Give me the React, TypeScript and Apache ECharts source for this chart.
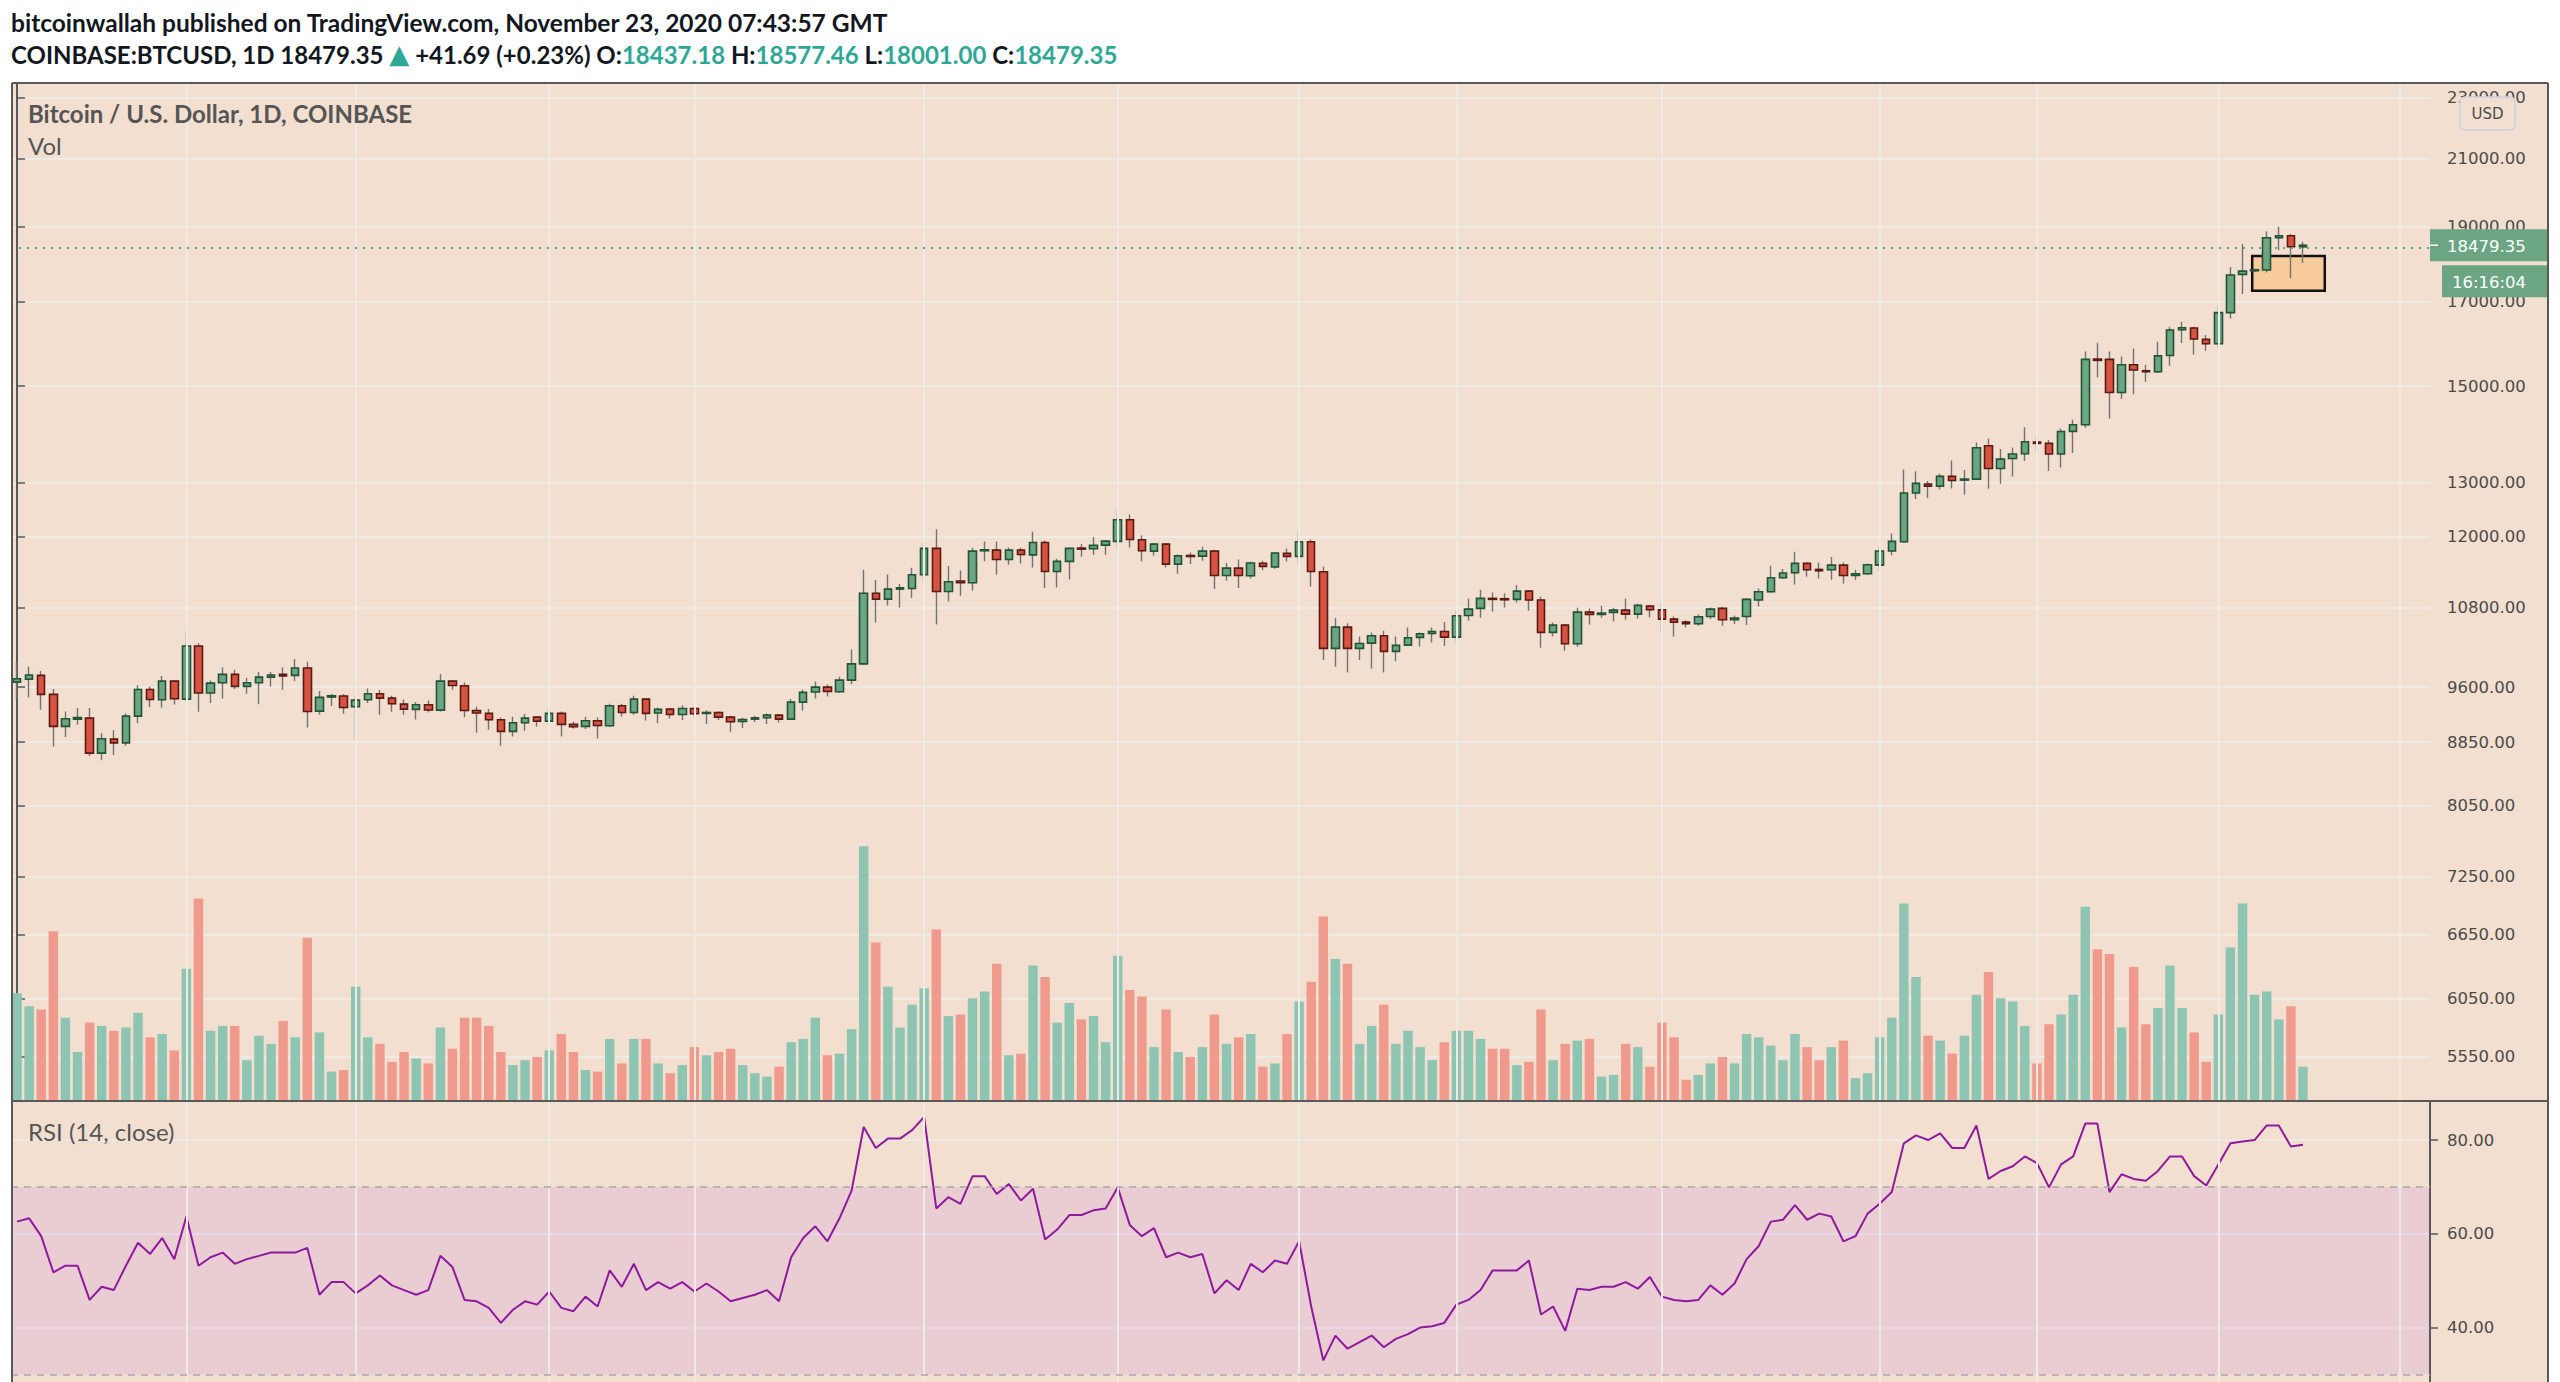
import React, { useEffect, useRef } from "react";
import * as echarts from "echarts";

// ---------------- data ----------------
const START_DATE = "2020-05-18";
const AXIS_DAYS = 200;

const opens = [9672,9715,9768,9497,9057,9155,9169,8705,8888,8839, 9196,9567,9422,9686,9431,10203,9516,9662,9783,9610, 9662,9744,9783,9768,9875,9265,9460,9474,9324,9422, 9506,9445,9361,9288,9352,9278,9685,9619,9274,9233, 9146,8990,9106,9183,9128,9233,9084,9057,9133,9066, 9338,9246,9431,9238,9292,9219,9301,9233,9246,9183, 9124,9155,9173,9210,9155,9389,9530,9600,9534,9700, 9936,11034,10938,11101,11112,11339,11791,11062,11234,11206, 11750,11761,11600,11761,11679,11896,11395,11567,11797,11785, 11849,11914,12302,11943,11744,11867,11520,11668,11657,11744, 11328,11452,11323,11534,11470,11704,11652,11908,11390,10167, 10493,10167,10247,10359,10122,10217,10334,10395,10426,10338, 10676,10788,10949,10944,10933,11068,10922,10411,10524,10237, 10729,10692,10724,10761,10697,10825,10766,10618,10571,10545, 10660,10788,10608,10660,10922,11057,11289,11373,11532,11429, 11424,11503,11328,11356,11503,11745,11908,12799,12971,12932, 13119,13048,13067,13729,13275,13473,13567,13804,13777,13561, 14025,14164,15611,15603,14858,15480,15344,15321,15694,16305, 16345,16073,15971,16723,17698,17795,17813,18686,18742,18437.18];

const highs = [9958,9899,9831,9572,9260,9306,9306,8967,9008,9232, 9626,9610,9759,9700,10430,10244,9696,9884,9850,9730, 9816,9816,9884,10007,9968,9544,9502,9502,9492,9581, 9558,9478,9426,9389,9413,9787,9700,9667,9324,9292, 9178,9187,9224,9196,9292,9260,9119,9187,9178,9366, 9366,9478,9441,9315,9301,9343,9315,9278,9260,9201, 9173,9201,9233,9224,9431,9562,9681,9638,9748,10152, 11424,11250,11345,11184,11457,11885,12133,11486,11412,11803, 11914,11914,11809,11803,12085,11932,11612,11803,11867,11991, 11932,12485,12400,12020,11885,11885,11685,11720,11820,11767, 11537,11600,11566,11578,11721,11791,12091,11949,11475,10634, 10555,10349,10411,10436,10349,10488,10411,10488,10571,10756, 10949,11090,11046,11030,11168,11079,10976,10566,10540,10798, 10788,10831,10798,10949,10863,10841,10868,10660,10602,10692, 10804,10810,10676,10954,11112,11492,11435,11734,11549,11549, 11640,11549,11424,11532,11838,12055,13252,13219,13029,13171, 13434,13245,13797,13879,13661,13695,14108,13913,13845,14087, 14270,15789,15994,15789,15672,15860,15480,16017,16378,16500, 16380,16177,16898,17892,18512,17850,18863,18994,18788,18577.46];

const lows = [9431,9455,9283,8792,8915,9079,8667,8615,8680,8800, 9101,9320,9310,9356,9403,9255,9375,9440,9572,9506, 9361,9610,9563,9686,9043,9214,9334,9228,8888,9375, 9214,9255,9214,9150,9246,9260,9562,9180,8973,9012, 8800,8923,8999,9052,9075,8923,9030,9021,8897,9057, 9192,9215,9137,9101,9164,9142,9173,9088,9142,8986, 9034,9115,9088,9110,9146,9269,9441,9469,9516,9643, 9921,10565,10836,10804,10954,11228,10534,10900,10992,11073, 11567,11339,11514,11531,11463,11118,11129,11262,11646,11679, 11679,11761,11809,11567,11662,11463,11356,11520,11578,11101, 11239,11118,11278,11418,11440,11566,11523,11145,9992,9894, 9812,9992,9869,9812,9977,10207,10192,10257,10202,10247, 10597,10639,10740,10804,10884,10750,10177,10349,10132,10192, 10535,10639,10582,10608,10629,10645,10428,10349,10488,10514, 10618,10514,10540,10524,10820,11051,11278,11179,11306,11278, 11256,11195,11250,11345,11401,11674,11896,12685,12704,12869, 12888,12767,13048,12882,12978,13119,13420,13627,13223,13295, 13580,14094,15193,14297,14713,14816,15089,15291,15458,15985, 15719,15805,15868,16581,17190,17760,17750,18340,17602,18001.00];

const closes = [9720,9773,9497,9057,9160,9178,8705,8892,8839,9196, 9567,9426,9686,9436,10203,9516,9657,9783,9610,9662, 9744,9773,9759,9875,9260,9455,9478,9315,9417,9506, 9445,9366,9292,9352,9279,9685,9623,9274,9238,9146, 8990,9106,9169,9128,9233,9084,9052,9133,9070,9338, 9246,9431,9233,9288,9219,9301,9228,9246,9183,9119, 9151,9173,9210,9155,9389,9525,9600,9539,9700,9936, 11034,10938,11101,11123,11339,11791,11062,11223,11206,11744, 11767,11600,11761,11685,11896,11395,11567,11791,11779,11844, 11920,12302,11949,11750,11867,11520,11662,11651,11744,11328, 11452,11328,11540,11481,11710,11652,11908,11395,10167,10493, 10167,10242,10359,10122,10212,10328,10390,10426,10338,10671, 10777,10949,10933,10927,11068,10922,10411,10524,10237,10729, 10692,10713,10761,10697,10836,10766,10618,10571,10545,10655, 10777,10608,10634,10933,11057,11289,11368,11532,11424,11407, 11503,11328,11356,11509,11745,11914,12799,12984,12932,13119, 13041,13067,13688,13275,13460,13561,13811,13777,13561,14023, 14164,15603,15581,14858,15480,15360,15321,15686,16297,16353, 16081,15971,16723,17681,17785,17821,18686,18742,18437.66,18479.35];

const volumes = [16500,14500,14000,26000,12750,7500,12000,11500,10750,11250, 13500,9750,10250,7750,20250,31000,10750,11500,11500,6250, 10000,8750,12250,9750,25000,10500,4500,4750,17500,9750, 8750,6000,7500,6500,5750,11250,8000,12750,12750,11500, 7500,5500,6250,6750,7750,10250,7500,4750,4500,9500, 5750,9500,9500,5750,4250,5500,8250,7000,7500,8000, 5500,4250,3750,5250,9000,9500,12750,7000,7250,11000, 39000,24250,17500,11250,14750,17250,26250,13000,13250,15750, 16750,21000,7000,7250,20750,19000,12000,15000,12500,13000, 9000,22250,17000,16000,8250,14000,7500,6750,8250,13250, 8750,9750,10250,5250,5750,10250,15250,18250,28250,21750, 21000,8750,11500,14750,8750,10750,8250,6250,9000,10750, 10750,9500,8000,8000,5500,6000,14000,6250,8750,9250, 9500,3750,4000,8750,8250,5250,12000,9750,3250,4000, 5750,6750,5750,10250,9750,8500,6250,10250,8250,6250, 8250,9250,3500,4250,9750,12750,30250,19000,10000,9250, 7250,10000,16250,19750,15750,15250,11500,5750,11750,13250, 16250,29750,23250,22500,11250,20500,11750,14250,20750,14250, 10500,6000,13250,23500,30250,16250,16750,12500,14500,5250];

const rsiValues = [62.6,63.3,59.5,51.8,53.2,53.2,45.9,48.7,48.0,53.2, 58.1,55.7,59.1,54.6,63.7,53.2,55.0,56.0,53.6,54.6, 55.3,56.0,56.0,56.0,57.0,47.0,49.7,49.7,47.3,49.0, 51.1,49.0,48.0,47.0,48.0,55.3,52.9,45.9,45.6,44.2, 41.0,43.8,45.6,44.9,47.7,44.2,43.5,46.6,44.5,52.2, 48.7,53.6,48.0,49.7,48.3,49.7,47.7,49.4,47.7,45.6, 46.3,47.0,48.0,45.6,55.0,59.1,61.6,58.4,63.3,69.2, 82.8,78.3,80.3,80.3,82.1,84.9,65.4,67.8,66.4,72.3, 72.3,68.5,70.6,67.1,69.6,58.8,60.9,64.0,64.0,65.0, 65.4,69.9,61.9,59.5,61.2,55.0,56.0,55.0,55.7,47.3, 50.1,48.0,53.6,51.8,54.3,53.6,58.4,44.5,33.0,38.3, 35.5,36.9,38.3,35.8,37.6,38.6,40.0,40.3,41.0,44.9, 45.9,48.0,52.2,52.2,52.2,54.3,42.8,44.5,39.3,48.3, 48.0,48.7,48.7,49.7,48.3,50.8,46.6,45.9,45.6,45.9, 49.0,47.0,49.4,54.6,57.4,62.6,63.0,66.1,63.0,64.3, 63.7,58.4,59.5,64.3,66.4,68.9,79.3,81.0,80.0,81.4, 78.3,78.3,83.1,71.7,73.4,74.4,76.5,75.1,69.9,74.8, 76.5,83.5,83.5,68.9,72.7,71.7,71.3,73.4,76.5,76.5, 72.3,70.3,74.8,79.3,79.7,80.0,83.1,83.1,78.6,79.0];

const priceTicks = [23000, 21000, 19000, 17000, 15000, 13000, 12000, 10800, 9600, 8850, 8050, 7250, 6650, 6050, 5550];
const rsiTicks = [40, 60, 80];
const rsiBand = [30, 70];
const gridDates = ["2020-06-01","2020-06-15","2020-07-01","2020-07-13","2020-08-01","2020-08-17","2020-09-01","2020-09-14","2020-10-01","2020-10-19","2020-11-01","2020-11-16","2020-12-01"];
const countdown = "16:16:04";
// annotation rectangle (day index range, price range)
const boxFrom = [184.8, 18190];
const boxTo = [190.8, 17277];

// ---------------- styling ----------------
const BG = "#f2dfcf";
const GRID_LINE = "#eeeae6";
const FRAME = "#595959";
const UP = "#6ba583", UP_BORDER = "#225437";
const DOWN = "#d75442", DOWN_BORDER = "#5b1a13";
const WICK = "#737375";
const VOL_UP = "#8dc5b2", VOL_DOWN = "#f09a8d";
const TEAL = "#2fa796";
const TEXT = "#131722";
const AXIS_TEXT = "#4b4b4b";

const PRICE_MIN = 8.5561, PRICE_MAX = 10.0649; // ln(price) range of the main pane
const RSI_MIN = 28.4, RSI_MAX = 88.32;
const VOL_MAX = 45930;

function buildDates(start: string, count: number): string[] {
  const out: string[] = [];
  const t0 = Date.parse(start + "T00:00:00Z");
  for (let i = 0; i < count; i++) out.push(new Date(t0 + i * 86400000).toISOString().slice(0, 10));
  return out;
}

export default function App() {
  const ref = useRef<HTMLDivElement>(null);

  useEffect(() => {
    if (!ref.current) return;
    const chart = echarts.init(ref.current, null, { renderer: "svg" });
    const ln = Math.log;
    const dates = buildDates(START_DATE, AXIS_DAYS);
    const n = closes.length;
    const last = n - 1;

    const wickData = opens.map((o, i) => [ln(o), ln(closes[i]), ln(lows[i]), ln(highs[i])]);
    const bodyData = opens.map((o, i) => {
      const c = closes[i];
      return [ln(o), ln(c), ln(Math.min(o, c)), ln(Math.max(o, c))];
    });
    const volData = volumes.map((v, i) => ({
      value: v,
      itemStyle: { color: closes[i] >= opens[i] ? VOL_UP : VOL_DOWN },
    }));

    const chg = closes[last] - closes[last - 1];
    const pct = (chg / closes[last - 1]) * 100;
    const sign = chg >= 0 ? "+" : "-";

    const catAxis = (gridIndex: number) => ({
      type: "category" as const,
      gridIndex,
      data: dates,
      boundaryGap: true,
      axisLine: { show: false },
      axisTick: { show: false },
      axisLabel: { show: false },
      splitLine: { show: false },
    });

    const vLines = (xAxisIndex: number, yAxisIndex: number, id: string) => ({
      id,
      type: "line",
      xAxisIndex,
      yAxisIndex,
      data: [],
      z: 1,
      silent: true,
      markLine: {
        silent: true,
        symbol: ["none", "none"],
        label: { show: false },
        lineStyle: { color: GRID_LINE, width: 2, type: "solid" },
        emphasis: { disabled: true },
        data: gridDates.map((d) => ({ xAxis: d })),
      },
    });

    const axisFont = { color: AXIS_TEXT, fontSize: 16.5, fontFamily: "DejaVu Sans" };

    const baseGraphics: any[] = [
      { id: "bg", type: "rect", z: -100, silent: true, shape: { x: 12, y: 83, width: 2536, height: 1299 }, style: { fill: BG } },
      { id: "fTop", type: "line", z: 100, silent: true, shape: { x1: 12, y1: 83, x2: 2548, y2: 83 }, style: { stroke: FRAME, lineWidth: 2 } },
      { id: "fLeft", type: "line", z: 100, silent: true, shape: { x1: 12, y1: 83, x2: 12, y2: 1382 }, style: { stroke: FRAME, lineWidth: 2 } },
      { id: "fRight", type: "line", z: 100, silent: true, shape: { x1: 2548, y1: 83, x2: 2548, y2: 1382 }, style: { stroke: FRAME, lineWidth: 2 } },
      { id: "fDiv", type: "line", z: 100, silent: true, shape: { x1: 12, y1: 1101, x2: 2548, y2: 1101 }, style: { stroke: FRAME, lineWidth: 2 } },
      { id: "usdBox", type: "rect", z: 50, silent: true, shape: { x: 2460, y: 97, width: 55, height: 33, r: 5 }, style: { fill: BG, stroke: "#cdd1dc", lineWidth: 1.5 } },
      { id: "usdText", type: "text", z: 51, silent: true, style: { text: "USD", x: 2487.5, y: 113.5, align: "center", verticalAlign: "middle", fill: "#4b4b4b", font: "15px 'DejaVu Sans'" } },
    ];

    const option: any = {
      animation: false,
      backgroundColor: "#ffffff",
      title: [
        {
          left: 11, top: 10, padding: 0,
          text: "{b|bitcoinwallah}{n| published on TradingView.com, November 23, 2020 07:43:57 GMT}",
          textStyle: {
            rich: {
              b: { fontFamily: "Lato", fontWeight: "bold", fontSize: 24.5, color: TEXT },
              n: { fontFamily: "Lato", fontSize: 24.5, color: TEXT },
            },
          },
        },
        {
          left: 11, top: 41, padding: 0,
          text:
            "{b|COINBASE:BTCUSD, 1D}{n| " + closes[last].toFixed(2) + " }{tri|▲}{n| " + sign + Math.abs(chg).toFixed(2) +
            " (" + sign + Math.abs(pct).toFixed(2) + "%) }{b|O:}{t|" + opens[last].toFixed(2) + "}{b| H:}{t|" + highs[last].toFixed(2) +
            "}{b| L:}{t|" + lows[last].toFixed(2) + "}{b| C:}{t|" + closes[last].toFixed(2) + "}",
          textStyle: {
            rich: {
              b: { fontFamily: "Lato", fontWeight: "bold", fontSize: 24, color: TEXT },
              n: { fontFamily: "Lato", fontSize: 24, color: TEXT },
              t: { fontFamily: "Lato", fontSize: 24, color: TEAL },
              tri: { fontFamily: "DejaVu Sans", fontSize: 26, color: TEAL },
            },
          },
        },
        { left: 28, top: 101, padding: 0, text: "Bitcoin / U.S. Dollar, 1D, COINBASE", textStyle: { fontFamily: "Lato", fontWeight: "bold", fontSize: 24, color: "#555555" } },
        { left: 28, top: 133, padding: 0, text: "Vol", textStyle: { fontFamily: "Lato", fontWeight: "normal", fontSize: 24, color: "#555555" } },
        { left: 28, top: 1119, padding: 0, text: "RSI (14, close)", textStyle: { fontFamily: "Lato", fontWeight: "normal", fontSize: 24, color: "#555555" } },
      ],
      grid: [
        { left: 11, right: 130, top: 83, bottom: 281 },
        { left: 11, right: 130, top: 801, bottom: 281 },
        { left: 11, right: 130, top: 1101, bottom: 0 },
      ],
      xAxis: [
        catAxis(0),
        catAxis(1),
        catAxis(2),
        { type: "value", gridIndex: 0, min: -0.5, max: AXIS_DAYS - 0.5, show: false },
      ],
      yAxis: [
        {
          type: "value", gridIndex: 0, position: "right", min: PRICE_MIN, max: PRICE_MAX,
          axisLine: { show: true, lineStyle: { color: FRAME, width: 2 } },
          axisTick: { show: true, customValues: priceTicks.map(ln), length: 8, lineStyle: { color: FRAME, width: 1.5 } },
          axisLabel: { customValues: priceTicks.map(ln), formatter: (v: number) => Math.round(Math.exp(v)).toFixed(2), margin: 17, ...axisFont },
          splitLine: { show: true, lineStyle: { color: GRID_LINE, width: 2 } },
        },
        { type: "value", gridIndex: 1, min: 0, max: VOL_MAX, show: false, splitLine: { show: false } },
        {
          type: "value", gridIndex: 2, position: "right", min: RSI_MIN, max: RSI_MAX,
          axisLine: { show: true, lineStyle: { color: FRAME, width: 2 } },
          axisTick: { show: true, customValues: rsiTicks, length: 8, lineStyle: { color: FRAME, width: 1.5 } },
          axisLabel: { customValues: rsiTicks, formatter: (v: number) => v.toFixed(2), margin: 17, ...axisFont },
          splitLine: { show: true, lineStyle: { color: GRID_LINE, width: 2 } },
        },
      ],
      series: [
        vLines(0, 0, "vgridMain"),
        {
          id: "volume", type: "bar", xAxisIndex: 1, yAxisIndex: 1, data: volData, barWidth: "78%", z: 2, silent: true,
        },
        {
          id: "wicks", type: "candlestick", xAxisIndex: 0, yAxisIndex: 0, data: wickData, barWidth: 1.4, z: 3, silent: true,
          itemStyle: { color: WICK, color0: WICK, borderColor: WICK, borderColor0: WICK, borderWidth: 1.4 },
        },
        {
          id: "bodies", type: "candlestick", xAxisIndex: 0, yAxisIndex: 0, data: bodyData, barWidth: 8, z: 4, silent: true,
          itemStyle: { color: UP, color0: DOWN, borderColor: UP_BORDER, borderColor0: DOWN_BORDER, borderWidth: 1.6 },
          markLine: {
            silent: true, symbol: ["none", "none"], label: { show: false },
            lineStyle: { color: UP, width: 2, type: [2, 6] },
            data: [{ yAxis: ln(closes[last]) }],
          },
        },
        {
          id: "box", type: "line", xAxisIndex: 3, yAxisIndex: 0, data: [], z: 6, silent: true,
          markArea: {
            silent: true,
            itemStyle: { color: "rgba(255,170,70,0.38)", borderColor: "#111111", borderWidth: 2.5 },
            data: [[{ coord: [boxFrom[0], ln(boxFrom[1])] }, { coord: [boxTo[0], ln(boxTo[1])] }]],
          },
        },
        vLines(2, 2, "vgridRsi"),
        {
          id: "rsi", type: "line", xAxisIndex: 2, yAxisIndex: 2, data: rsiValues, symbol: "none", z: 4, silent: true,
          lineStyle: { color: "#8e1a9e", width: 2 },
          markArea: {
            silent: true,
            itemStyle: { color: "rgba(153,21,255,0.09)" },
            data: [[{ yAxis: rsiBand[0] }, { yAxis: rsiBand[1] }]],
          },
          markLine: {
            silent: true, symbol: ["none", "none"], label: { show: false },
            lineStyle: { color: "#aea4ad", width: 1.5, type: [7, 6] },
            data: rsiBand.map((v) => ({ yAxis: v })),
          },
        },
      ],
      graphic: baseGraphics,
    };

    chart.setOption(option);

    const py = chart.convertToPixel({ yAxisIndex: 0 } as any, ln(closes[last])) as unknown as number;
    chart.setOption({
      graphic: [
        ...baseGraphics,
        { id: "pBox", type: "rect", z: 60, silent: true, shape: { x: 2430, y: py - 16, width: 118, height: 32 }, style: { fill: UP } },
        { id: "pTick", type: "line", z: 61, silent: true, shape: { x1: 2430, y1: py, x2: 2438, y2: py }, style: { stroke: "#ffffff", lineWidth: 1.5 } },
        { id: "pText", type: "text", z: 61, silent: true, style: { text: closes[last].toFixed(2), x: 2447, y: py + 1, align: "left", verticalAlign: "middle", fill: "#ffffff", font: "16.5px 'DejaVu Sans'" } },
        { id: "cBox", type: "rect", z: 60, silent: true, shape: { x: 2442, y: py + 20, width: 106, height: 32 }, style: { fill: UP } },
        { id: "cText", type: "text", z: 61, silent: true, style: { text: countdown, x: 2452, y: py + 37, align: "left", verticalAlign: "middle", fill: "#ffffff", font: "16.5px 'DejaVu Sans'" } },
      ],
    });

    return () => chart.dispose();
  }, []);

  return (
    <div
      ref={ref}
      style={{ position: "absolute", left: 0, top: 0, width: 2560, height: 1382, background: "#ffffff" }}
    />
  );
}
